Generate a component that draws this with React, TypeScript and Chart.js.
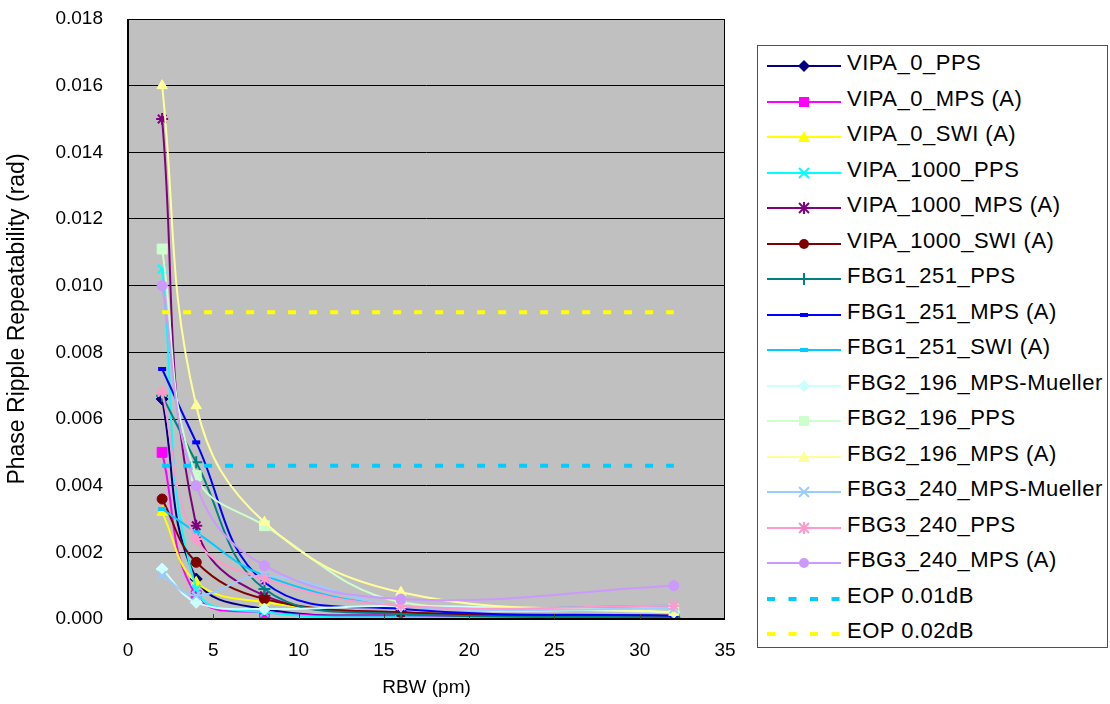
import React, { useEffect, useRef } from "react";
import { Chart, registerables } from "chart.js";

Chart.register(...registerables);

// ---- Data ----
const rbw = [2, 4, 8, 16, 32];

const vipa0PPS = [0.0066, 0.0012, 0.0003, 0.0001, 0.00005];
const vipa0MPS = [0.0050, 0.0007, 0.0002, 0.0001, 0.00005];
const vipa0SWI = [0.0032, 0.0011, 0.0005, 0.0002, 0.0001];
const vipa1000PPS = [0.0105, 0.0009, 0.0002, 0.00005, 0.00005];
const vipa1000MPS = [0.0150, 0.0028, 0.0007, 0.0002, 0.00005];
const vipa1000SWI = [0.0036, 0.0017, 0.0006, 0.0002, 0.0001];
const fbg1PPS = [0.0067, 0.0047, 0.0009, 0.00015, 0.00005];
const fbg1MPS = [0.0075, 0.0053, 0.0011, 0.0003, 0.0001];
const fbg1SWI = [0.0033, 0.0026, 0.0013, 0.0004, 0.0004];
const fbg2Mueller = [0.0015, 0.0005, 0.0003, 0.0004, 0.0002];
const fbg2PPS = [0.0111, 0.0043, 0.0028, 0.0005, 0.0003];
const fbg2MPS = [0.0160, 0.0064, 0.0029, 0.0008, 0.0002];
const fbg3Mueller = [0.0013, 0.0007, 0.0013, 0.0004, 0.0003];
const fbg3PPS = [0.0068, 0.0024, 0.0012, 0.0004, 0.0004];
const fbg3MPS = [0.0100, 0.0040, 0.0016, 0.0006, 0.0010];

const eopX = [2, 32];
const eop001 = [0.0046, 0.0046];
const eop002 = [0.0092, 0.0092];

const xTicks = { min: 0, max: 35, step: 5 };
const yTicks = { min: 0, max: 0.018, step: 0.002 };

type Marker = "diamond" | "square" | "triangle" | "x" | "asterisk" | "circle" | "plus" | "dash" | "none";

interface SeriesDef {
  label: string;
  xs: number[];
  ys: number[];
  color: string;
  marker: Marker;
  dashed?: boolean;
}

const series: SeriesDef[] = [
  { label: "VIPA_0_PPS", xs: rbw, ys: vipa0PPS, color: "#000080", marker: "diamond" },
  { label: "VIPA_0_MPS (A)", xs: rbw, ys: vipa0MPS, color: "#FF00FF", marker: "square" },
  { label: "VIPA_0_SWI (A)", xs: rbw, ys: vipa0SWI, color: "#FFFF00", marker: "triangle" },
  { label: "VIPA_1000_PPS", xs: rbw, ys: vipa1000PPS, color: "#00FFFF", marker: "x" },
  { label: "VIPA_1000_MPS (A)", xs: rbw, ys: vipa1000MPS, color: "#800080", marker: "asterisk" },
  { label: "VIPA_1000_SWI (A)", xs: rbw, ys: vipa1000SWI, color: "#800000", marker: "circle" },
  { label: "FBG1_251_PPS", xs: rbw, ys: fbg1PPS, color: "#008080", marker: "plus" },
  { label: "FBG1_251_MPS (A)", xs: rbw, ys: fbg1MPS, color: "#0000FF", marker: "dash" },
  { label: "FBG1_251_SWI (A)", xs: rbw, ys: fbg1SWI, color: "#00CCFF", marker: "dash" },
  { label: "FBG2_196_MPS-Mueller", xs: rbw, ys: fbg2Mueller, color: "#CCFFFF", marker: "diamond" },
  { label: "FBG2_196_PPS", xs: rbw, ys: fbg2PPS, color: "#CCFFCC", marker: "square" },
  { label: "FBG2_196_MPS (A)", xs: rbw, ys: fbg2MPS, color: "#FFFF99", marker: "triangle" },
  { label: "FBG3_240_MPS-Mueller", xs: rbw, ys: fbg3Mueller, color: "#99CCFF", marker: "x" },
  { label: "FBG3_240_PPS", xs: rbw, ys: fbg3PPS, color: "#FF99CC", marker: "asterisk" },
  { label: "FBG3_240_MPS (A)", xs: rbw, ys: fbg3MPS, color: "#CC99FF", marker: "circle" },
  { label: "EOP 0.01dB", xs: eopX, ys: eop001, color: "#00CCFF", marker: "none", dashed: true },
  { label: "EOP 0.02dB", xs: eopX, ys: eop002, color: "#FFFF00", marker: "none", dashed: true },
];

const pointStyleMap: Record<Marker, any> = {
  diamond: "rectRot",
  square: "rect",
  triangle: "triangle",
  x: "crossRot",
  asterisk: "star",
  circle: "circle",
  plus: "cross",
  dash: "line",
  none: false,
};
const pointRadiusMap: Record<Marker, number> = {
  diamond: 6,
  square: 7,
  triangle: 6,
  x: 6,
  asterisk: 6,
  circle: 5,
  plus: 6,
  dash: 4,
  none: 0,
};
const pointBorderMap: Record<Marker, number> = {
  diamond: 1,
  square: 1,
  triangle: 1,
  x: 2,
  asterisk: 2,
  circle: 1,
  plus: 2,
  dash: 4,
  none: 0,
};

const FONT = "'Liberation Sans', Arial, sans-serif";

function LegendMarker({ m, color }: { m: Marker; color: string }) {
  const cx = 37;
  const cy = 12;
  switch (m) {
    case "diamond":
      return <polygon points={`${cx},${cy - 6} ${cx + 6},${cy} ${cx},${cy + 6} ${cx - 6},${cy}`} fill={color} />;
    case "square":
      return <rect x={cx - 5} y={cy - 5} width={10} height={10} fill={color} />;
    case "triangle":
      return <polygon points={`${cx},${cy - 6} ${cx + 6},${cy + 5} ${cx - 6},${cy + 5}`} fill={color} />;
    case "x":
      return (
        <g stroke={color} strokeWidth={2}>
          <line x1={cx - 5} y1={cy - 5} x2={cx + 5} y2={cy + 5} />
          <line x1={cx - 5} y1={cy + 5} x2={cx + 5} y2={cy - 5} />
        </g>
      );
    case "asterisk":
      return (
        <g stroke={color} strokeWidth={2}>
          <line x1={cx - 5} y1={cy - 5} x2={cx + 5} y2={cy + 5} />
          <line x1={cx - 5} y1={cy + 5} x2={cx + 5} y2={cy - 5} />
          <line x1={cx} y1={cy - 6} x2={cx} y2={cy + 6} />
        </g>
      );
    case "circle":
      return <circle cx={cx} cy={cy} r={5} fill={color} />;
    case "plus":
      return (
        <g stroke={color} strokeWidth={2}>
          <line x1={cx - 5} y1={cy} x2={cx + 5} y2={cy} />
          <line x1={cx} y1={cy - 6} x2={cx} y2={cy + 6} />
        </g>
      );
    case "dash":
      return <rect x={cx - 4} y={cy - 2} width={8} height={4} fill={color} />;
    default:
      return null;
  }
}

export default function App() {
  const canvasRef = useRef<HTMLCanvasElement | null>(null);

  useEffect(() => {
    if (!canvasRef.current) return;
    Chart.defaults.font.family = FONT;
    Chart.defaults.color = "#000";

    const datasets = series.map((s, i) => ({
      label: s.label,
      data: s.xs.map((x, j) => ({ x, y: s.ys[j] })),
      borderColor: s.color,
      backgroundColor: s.color,
      borderWidth: s.dashed ? 4 : 2,
      borderDash: s.dashed ? [8, 13] : [],
      pointStyle: pointStyleMap[s.marker],
      pointRadius: pointRadiusMap[s.marker],
      pointBorderWidth: pointBorderMap[s.marker],
      pointBackgroundColor: s.color,
      pointBorderColor: s.color,
      showLine: true,
      tension: s.dashed ? 0 : 0.4,
      order: 100 - i,
    }));

    const plotDecor = {
      id: "plotDecor",
      beforeDraw(chart: any) {
        const { ctx, chartArea } = chart;
        ctx.save();
        ctx.fillStyle = "#C0C0C0";
        ctx.fillRect(chartArea.left, chartArea.top, chartArea.right - chartArea.left, chartArea.bottom - chartArea.top);
        ctx.restore();
      },
      afterDraw(chart: any) {
        const { ctx, chartArea } = chart;
        ctx.save();
        ctx.strokeStyle = "#000";
        ctx.lineWidth = 1;
        ctx.strokeRect(chartArea.left + 0.5, chartArea.top + 0.5, chartArea.right - chartArea.left - 1, chartArea.bottom - chartArea.top);
        ctx.lineWidth = 2;
        ctx.beginPath();
        ctx.moveTo(chartArea.left, chartArea.top);
        ctx.lineTo(chartArea.left, chartArea.bottom);
        ctx.lineTo(chartArea.right, chartArea.bottom);
        ctx.stroke();
        // inward tick marks on x axis
        const xs = chart.scales.x;
        ctx.lineWidth = 1;
        ctx.strokeStyle = "#404040";
        for (let v = xTicks.min + xTicks.step; v < xTicks.max; v += xTicks.step) {
          const px = Math.round(xs.getPixelForValue(v)) + 0.5;
          ctx.beginPath();
          ctx.moveTo(px, chartArea.bottom);
          ctx.lineTo(px, chartArea.bottom - 5);
          ctx.stroke();
        }
        ctx.restore();
      },
    };

    const chart = new Chart(canvasRef.current, {
      type: "scatter",
      data: { datasets },
      plugins: [plotDecor],
      options: {
        animation: false,
        responsive: false,
        maintainAspectRatio: false,
        layout: { padding: { left: 0, top: 19, right: 385, bottom: 0 } },
        plugins: {
          legend: { display: false },
          tooltip: { enabled: false },
        },
        scales: {
          x: {
            type: "linear",
            min: xTicks.min,
            max: xTicks.max,
            afterFit: (scale: any) => {
              scale.height = 85;
              scale.paddingLeft = 0;
              scale.paddingRight = 0;
            },
            ticks: {
              stepSize: xTicks.step,
              font: { size: 19, family: FONT },
              color: "#000",
              padding: 20,
            },
            grid: { display: false, drawTicks: false },
            border: { display: false },
            title: {
              display: true,
              text: "RBW (pm)",
              font: { size: 19, family: FONT },
              color: "#000",
              padding: { top: 0, bottom: 5 },
            },
          },
          y: {
            type: "linear",
            min: yTicks.min,
            max: yTicks.max,
            afterFit: (scale: any) => {
              scale.width = 128;
              scale.paddingTop = 0;
              scale.paddingBottom = 0;
            },
            ticks: {
              stepSize: yTicks.step,
              font: { size: 19, family: FONT },
              color: "#000",
              padding: 25,
              callback: (v: any) => Number(v).toFixed(3),
            },
            grid: { color: "#000", lineWidth: 1, drawTicks: false },
            border: { display: false },
            title: {
              display: true,
              text: "Phase Ripple Repeatability (rad)",
              font: { size: 23, family: FONT },
              color: "#000",
              padding: { top: 4, bottom: 0 },
            },
          },
        },
      },
    });
    return () => chart.destroy();
  }, []);

  const rowStart = 20;
  const rowStep = 35.5;

  return (
    <div style={{ position: "absolute", left: 0, top: 0, width: 1110, height: 704, background: "#fff", overflow: "hidden" }}>
      <canvas ref={canvasRef} width={1110} height={704} style={{ display: "block", position: "absolute", left: 0, top: 0 }} />
      <div
        style={{
          position: "absolute",
          left: 757,
          top: 45,
          width: 351,
          height: 603,
          boxSizing: "border-box",
          border: "1px solid #505050",
          background: "#fff",
          fontFamily: FONT,
        }}
      >
        {series.map((s, i) => {
          const cy = rowStart + rowStep * i;
          return (
            <div key={s.label} style={{ position: "absolute", left: 0, top: cy - 12, width: 349, height: 24 }}>
              <svg width={74} height={24} style={{ position: "absolute", left: 9, top: 0 }}>
                <line
                  x1={0}
                  y1={12}
                  x2={74}
                  y2={12}
                  stroke={s.color}
                  strokeWidth={s.dashed ? 4 : 2}
                  strokeDasharray={s.dashed ? "8 13.5" : undefined}
                />
                <LegendMarker m={s.marker} color={s.color} />
              </svg>
              <span
                style={{
                  position: "absolute",
                  left: 89,
                  top: -3,
                  fontSize: 22,
                  letterSpacing: "0.5px",
                  lineHeight: "24px",
                  color: "#000",
                  whiteSpace: "nowrap",
                }}
              >
                {s.label}
              </span>
            </div>
          );
        })}
      </div>
    </div>
  );
}
